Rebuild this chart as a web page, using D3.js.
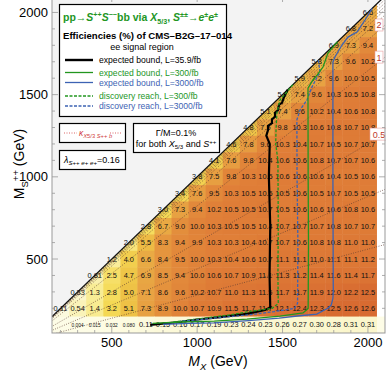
<!DOCTYPE html>
<html>
<head>
<meta charset="utf-8">
<script src="https://cdn.jsdelivr.net/npm/d3@7"></script>
<style>
body { margin: 0; background: #fff; }
text { font-family: 'Liberation Sans', Arial, sans-serif; }
</style>
</head>
<body>
<div id="chart"></div>
<script>
// efficiencies (%) per row of M_S++, each row starts at M_X = M_S (row 100 starts at 300)
const effS2000 = [6.5]
const effS1900 = [6.8, 7.2]
const effS1800 = [6.9, 7.3, 9.4]
const effS1700 = [5.8, 7.3, 9.6, 10.2]
const effS1600 = [5.9, 7.2, 9.6, 10.0, 10.5]
const effS1500 = [5.7, 7.4, 9.6, 10.3, 10.5, 10.8]
const effS1400 = [5.1, 7.4, 9.6, 10.2, 10.4, 10.6, 10.8]
const effS1300 = [4.8, 7.5, 9.8, 10.3, 10.6, 10.8, 10.7, 10.8]
const effS1200 = [4.6, 7.8, 9.6, 10.3, 10.4, 10.7, 10.5, 10.7, 10.7]
const effS1100 = [4.1, 7.6, 9.8, 10.4, 10.6, 10.6, 10.8, 10.7, 10.7, 10.6]
const effS1000 = [3.8, 7.5, 9.8, 10.3, 10.5, 10.6, 10.6, 10.6, 10.4, 10.5, 10.6]
const effS900 = [3.4, 7.6, 9.5, 10.3, 10.5, 10.5, 10.5, 10.6, 10.5, 10.7, 10.5, 10.5]
const effS800 = [3.0, 7.3, 9.4, 10.2, 10.5, 10.5, 10.7, 10.5, 10.6, 10.6, 10.6, 10.8, 10.6]
const effS700 = [2.8, 6.7, 9.0, 10.0, 10.3, 10.5, 10.5, 10.4, 10.7, 10.7, 10.7, 10.8, 10.7, 10.7]
const effS600 = [2.0, 5.5, 8.3, 9.4, 9.9, 10.3, 10.3, 10.4, 10.7, 10.7, 10.6, 10.8, 10.8, 11.0, 11.0]
const effS500 = [1.2, 4.0, 6.6, 8.4, 9.5, 10.0, 10.3, 10.4, 10.6, 10.7, 11.1, 11.1, 11.0, 11.1, 11.1, 11.2]
const effS400 = [0.81, 2.5, 4.7, 6.9, 8.5, 9.4, 10.0, 10.6, 10.7, 10.9, 11.1, 11.3, 11.2, 11.4, 11.6, 11.4, 11.7]
const effS300 = [0.33, 1.3, 2.8, 5.0, 7.1, 8.6, 9.6, 10.2, 10.7, 11.0, 11.3, 11.5, 11.7, 11.7, 11.9, 12.0, 12.2, 12.5]
const effS200 = [0.11, 0.54, 1.4, 3.2, 5.1, 7.3, 8.9, 10.0, 10.7, 10.9, 11.5, 11.7, 11.7, 12.1, 12.4, 12.3, 12.5, 12.6, 12.6]
const effS100 = [0.004, 0.015, 0.032, 0.080, 0.11, 0.15, 0.16, 0.17, 0.19, 0.23, 0.24, 0.23, 0.26, 0.27, 0.30, 0.28, 0.31, 0.31]

// contours, [M_X, M_S] in GeV
const boundObs = [[1530,1530],[1510,1490],[1497,1450],[1480,1440],[1473,1405],[1456,1390],[1456,1365],[1438,1350],[1438,1327],[1415,1310],[1415,1285],[1405,1250],[1425,1200],[1420,1000],[1428,700],[1424,400],[1428,205],[1397,190],[1292,166],[1134,147],[975,129],[899,117],[725,100]]
const bound300 = [[1822,1822],[1766,1753],[1737,1668],[1702,1619],[1678,1589],[1649,1540],[1650,1000],[1652,600],[1650,200],[1620,172],[1485,153],[1292,135],[1100,122],[900,117],[740,108]]
const bound3000 = [[2025,2025],[1983,1954],[1936,1881],[1883,1850],[1848,1802],[1807,1729],[1795,1698],[1795,1000],[1797,300],[1795,260],[1785,220],[1765,200],[1700,165],[1600,155],[1480,140],[1300,125],[1100,112],[950,108],[800,102]]
const disc300 = [[1560,1560],[1520,1510],[1485,1467],[1467,1388],[1462,1290],[1460,1200],[1473,1100],[1475,700],[1473,400],[1475,230],[1440,200],[1300,180],[1190,160],[1000,135],[850,115]]
const disc3000 = [[1710,1710],[1719,1638],[1672,1546],[1643,1467],[1602,1406],[1584,1346],[1585,1000],[1590,600],[1588,230],[1570,200],[1450,180],[1300,160],[1100,140],[900,120]]

// kappa contours: M_S / M_X ratio of each dotted line
const kappaRatios = [0.28, 0.44, 0.6, 0.823, 0.916, 0.945, 0.96, 0.97, 0.98, 0.99]
const kappaLabels = [['2', 0.916], ['1', 0.823], ['0.5', 0.6]]

const xTicks = [500, 1000, 1500, 2000]
const yTicks = [500, 1000, 1500, 2000]

const width = 386, height = 371
const green = '#22961f', blue = '#3d63b3'

const x = d3.scaleLinear().domain([150, 2100]).range([52, 385])
const y = d3.scaleLinear().domain([50, 2100]).range([333, -4])
const effColor = d3.scaleLinear()
	.domain([0, 0.5, 1.5, 3, 5, 7, 9, 10.5, 12.6])
	.range(['#fdfce6', '#faf3bb', '#f8ea8c', '#f5da56', '#eec246', '#e8a443', '#e38e3c', '#df7d37', '#d86b31'])
	.clamp(true)

// flatten rows into cells
const rows = [[2000, effS2000], [1900, effS1900], [1800, effS1800], [1700, effS1700], [1600, effS1600],
	[1500, effS1500], [1400, effS1400], [1300, effS1300], [1200, effS1200], [1100, effS1100],
	[1000, effS1000], [900, effS900], [800, effS800], [700, effS700], [600, effS600],
	[500, effS500], [400, effS400], [300, effS300], [200, effS200], [100, effS100]]
const cells = []
rows.forEach(([ms, vals]) => {
	const start = ms === 100 ? 300 : ms
	vals.forEach((v, i) => cells.push({mx: start + i * 100, ms: ms, v: v}))
})

const fmt = v => v < 0.1 ? v.toFixed(3) : v < 1 ? v.toFixed(2) : v.toFixed(1)

const svg = d3.select('#chart').append('svg')
	.attr('width', width)
	.attr('height', height)

svg.append('clipPath').attr('id', 'plot')
	.append('rect')
	.attr('x', x(150)).attr('y', y(2100))
	.attr('width', x(2100) - x(150)).attr('height', y(50) - y(2100))

const g = svg.append('g').attr('clip-path', 'url(#plot)')

// cream band under the lowest row
g.append('rect')
	.attr('x', x(150)).attr('y', y(150))
	.attr('width', x(2100) - x(150)).attr('height', y(50) - y(150))
	.style('fill', effColor(0))

// heat map cells
g.selectAll('.cell')
	.data(cells)
	.enter()
	.append('rect')
	.attr('class', 'cell')
	.attr('x', d => x(d.mx - 50))
	.attr('y', d => y(d.ms + 50))
	.attr('width', x(150) - x(50) + 0.5)
	.attr('height', y(50) - y(150) + 0.5)
	.style('fill', d => effColor(d.v))

// kappa dotted lines
g.selectAll('.kappa')
	.data(kappaRatios)
	.enter()
	.append('line')
	.attr('x1', x(0)).attr('y1', y(0))
	.attr('x2', x(2100)).attr('y2', r => y(2100 * r))
	.style('stroke', '#5a3a30')
	.style('stroke-width', 0.8)
	.style('stroke-dasharray', '0.8,1.6')

// region M_S > M_X
g.append('path')
	.attr('d', d3.line()([[x(150), y(150)], [x(150), y(2100)], [x(2100), y(2100)]]))
	.style('fill', '#f3f3f3')
g.append('line')
	.attr('x1', x(150)).attr('y1', y(150))
	.attr('x2', x(2100)).attr('y2', y(2100))
	.style('stroke', '#111')
	.style('stroke-width', 1.3)

// cell labels
g.selectAll('.lab')
	.data(cells)
	.enter()
	.append('text')
	.attr('class', 'lab')
	.attr('x', d => x(d.mx))
	.attr('y', d => y(d.ms) + 2.6)
	.attr('text-anchor', 'middle')
	.style('font-size', d => fmt(d.v).length > 4 ? '4.8px' : '7.4px')
	.style('fill', '#111')
	.text(d => fmt(d.v))

// limit / reach contours
const line = d3.line().x(d => x(d[0])).y(d => y(d[1]))
const contours = [
	[boundObs, '#000', 2.2, null],
	[disc300, green, 1.3, '3,1.5'],
	[disc3000, blue, 1.3, '3,1.5'],
	[bound300, green, 1.3, null],
	[bound3000, blue, 1.3, null]]
contours.forEach(([pts, col, w, dash]) => {
	g.append('path')
		.attr('d', line(pts))
		.style('fill', 'none')
		.style('stroke', col)
		.style('stroke-width', w)
		.style('stroke-dasharray', dash)
})

// kappa labels at right edge
kappaLabels.forEach(([t, r]) => {
	const ly = y(2100 * r)
	const lab = svg.append('g').attr('transform', 'translate(' + 379 + ',' + ly + ')')
	const w = t.length * 5 + 3
	lab.append('rect').attr('x', -w / 2).attr('y', -6).attr('width', w).attr('height', 12)
		.style('fill', '#fff').style('stroke', '#e8a0a0').style('stroke-width', 0.6)
	lab.append('text').attr('text-anchor', 'middle').attr('y', 3.5)
		.style('font-size', '9px').style('fill', '#c0392b').text(t)
})

// frame and ticks
svg.append('rect')
	.attr('x', x(150)).attr('y', y(2100))
	.attr('width', x(2100) - x(150)).attr('height', y(50) - y(2100))
	.style('fill', 'none').style('stroke', '#999').style('stroke-width', 1)
const minor = d3.range(200, 2100, 100)
const ticks = svg.append('g').style('stroke', '#999').style('stroke-width', 0.8)
minor.forEach(v => {
	const len = v % 500 === 0 ? 6 : 3
	ticks.append('line').attr('x1', x(v)).attr('x2', x(v)).attr('y1', y(50)).attr('y2', y(50) - len)
	ticks.append('line').attr('x1', x(v)).attr('x2', x(v)).attr('y1', y(2100)).attr('y2', y(2100) + len)
	ticks.append('line').attr('y1', y(v)).attr('y2', y(v)).attr('x1', x(150)).attr('x2', x(150) + len)
	ticks.append('line').attr('y1', y(v)).attr('y2', y(v)).attr('x1', x(2100)).attr('x2', x(2100) - len)
})
svg.selectAll('.xt')
	.data(xTicks)
	.enter()
	.append('text')
	.attr('x', d => x(d)).attr('y', 347)
	.attr('text-anchor', 'middle')
	.style('font-size', '13px')
	.text(d => d)
svg.selectAll('.yt')
	.data(yTicks)
	.enter()
	.append('text')
	.attr('x', 48).attr('y', d => y(d) + 4.5)
	.attr('text-anchor', 'end')
	.style('font-size', '13px')
	.text(d => d)

// rich text helper: parts are strings or {t, i, sup, sub}
function rich (sel, parts, fs) {
	let shift = 0
	parts.forEach(p => {
		if (typeof p === 'string') p = {t: p}
		const target = p.sup ? -0.38 * fs : p.sub ? 0.25 * fs : 0
		const ts = sel.append('tspan').text(p.t)
		if (target !== shift) { ts.attr('dy', target - shift); shift = target }
		if (p.sup || p.sub) ts.style('font-size', (fs * 0.68) + 'px')
		if (p.i) ts.style('font-style', 'italic')
	})
}

// axis titles
rich(svg.append('text').attr('x', 218).attr('y', 366).attr('text-anchor', 'middle').style('font-size', '14px'),
	[{t: 'M', i: 1}, {t: 'X', i: 1, sub: 1}, ' (GeV)'], 14)
rich(svg.append('text').attr('transform', 'translate(24,164) rotate(-90)').attr('text-anchor', 'middle').style('font-size', '14px'),
	['M', {t: 'S', sub: 1}, {t: '++', sup: 1}, ' (GeV)'], 14)

// main legend box
const leg = svg.append('g')
leg.append('rect').attr('x', 59.5).attr('y', 4.5).attr('width', 167).attr('height', 112)
	.style('fill', '#fff').style('stroke', '#000').style('stroke-width', 1.2)
rich(leg.append('text').attr('x', 63).attr('y', 21).style('font-size', '10.5px').style('font-weight', 'bold').style('fill', green),
	['pp→', {t: 'S', i: 1}, {t: '++', sup: 1}, {t: 'S', i: 1}, {t: '−−', sup: 1}, 'bb via ', {t: 'X', i: 1}, {t: '5/3', sub: 1},
		',  ', {t: 'S', i: 1}, {t: '±±', sup: 1}, '→', {t: 'e', i: 1}, {t: '±', sup: 1}, {t: 'e', i: 1}, {t: '±', sup: 1}], 10.5)
leg.append('text').attr('x', 63).attr('y', 39).style('font-size', '9.6px').style('font-weight', 'bold')
	.text('Efficiencies (%) of CMS–B2G–17–014')
leg.append('text').attr('x', 142).attr('y', 50).attr('text-anchor', 'middle').style('font-size', '9px')
	.text('ee signal region')
const entries = [
	['expected bound, L=35.9/fb', '#000', '#000', 2.4, null, 63],
	['expected bound, L=300/fb', green, green, 1.3, null, 75.5],
	['expected bound, L=3000/fb', blue, blue, 1.3, null, 85.5],
	['discovery reach, L=300/fb', green, green, 1.3, '3,1.5', 99],
	['discovery reach, L=3000/fb', blue, blue, 1.3, '3,1.5', 109]]
entries.forEach(([t, col, tc, w, dash, ly]) => {
	leg.append('line').attr('x1', 65).attr('x2', 93).attr('y1', ly - 3).attr('y2', ly - 3)
		.style('stroke', col).style('stroke-width', w).style('stroke-dasharray', dash)
	leg.append('text').attr('x', 99).attr('y', ly).style('font-size', '8.6px').style('fill', tc).text(t)
})

// small boxes
leg.append('rect').attr('x', 59.5).attr('y', 123.5).attr('width', 66).attr('height', 19)
	.style('fill', '#fff').style('stroke', '#000').style('stroke-width', 1.2)
leg.append('line').attr('x1', 64).attr('x2', 77).attr('y1', 133).attr('y2', 133)
	.style('stroke', '#d04040').style('stroke-width', 0.8).style('stroke-dasharray', '1,1.5')
leg.append('line').attr('x1', 110).attr('x2', 121).attr('y1', 133).attr('y2', 133)
	.style('stroke', '#d04040').style('stroke-width', 0.8).style('stroke-dasharray', '1,1.5')
rich(leg.append('text').attr('x', 79).attr('y', 135.5).style('font-size', '8.5px').style('fill', '#d04040'),
	[{t: 'κ', i: 1}, {t: 'X', i: 1, sub: 1}, {t: '5/3', sub: 1}, {t: ' S', i: 1, sub: 1}, {t: '++', sub: 1}, {t: ' b', i: 1, sub: 1}], 8.5)

leg.append('rect').attr('x', 59.5).attr('y', 150.5).attr('width', 66).attr('height', 19)
	.style('fill', '#fff').style('stroke', '#000').style('stroke-width', 1.2)
rich(leg.append('text').attr('x', 64).attr('y', 163).style('font-size', '9px'),
	[{t: 'λ', i: 1}, {t: 'S', i: 1, sub: 1}, {t: '++ ', sub: 1}, {t: 'e', i: 1, sub: 1}, {t: '+ ', sub: 1}, {t: 'e', i: 1, sub: 1}, {t: '+', sub: 1}, '=0.16'], 9)

leg.append('rect').attr('x', 133.5).attr('y', 123.5).attr('width', 86).attr('height', 29)
	.style('fill', '#fff').style('stroke', '#000').style('stroke-width', 1.2)
leg.append('text').attr('x', 176).attr('y', 136).attr('text-anchor', 'middle').style('font-size', '9px')
	.text('Γ/M=0.1%')
rich(leg.append('text').attr('x', 176).attr('y', 147).attr('text-anchor', 'middle').style('font-size', '9px'),
	['for both ', {t: 'X', i: 1}, {t: '5/3', sub: 1}, ' and ', {t: 'S', i: 1}, {t: '++', sup: 1}], 9)
</script>
</body>
</html>
